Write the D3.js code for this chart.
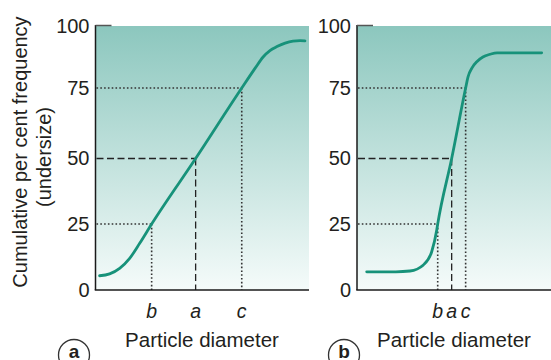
<!DOCTYPE html>
<html>
<head>
<meta charset="utf-8">
<script src="https://cdn.jsdelivr.net/npm/d3@7"></script>
<style>
  html, body { margin: 0; padding: 0; background: #fff; }
  svg { display: block; font-family: "Liberation Sans", Arial, Helvetica, sans-serif; }
</style>
</head>
<body>
<svg id="chart" width="551" height="360"></svg>
<script>
// ---- data ----
const yTickValues = [0, 25, 50, 75, 100];
const yTickLabels = ["0", "25", "50", "75", "100"];
const markerLetters = ["b", "a", "c"];
const markerLevels = [25, 50, 75];
const markerStyles = ["dotted", "dashed", "dotted"];

// panel a: broad distribution
const sizeA = [1.9, 6.6, 11.3, 16.0, 20.7, 26.3, 46.9, 68.5, 74.7, 78.5, 81.7, 85.0, 88.8, 92.5, 95.8, 98.1];
const cumA  = [5.4, 6.1, 8.2, 12.0, 17.7, 25.0, 50.0, 75.0, 82.9, 87.5, 90.1, 91.7, 93.1, 93.9, 94.1, 94.0];
const markersA = [26.3, 46.9, 68.5];

// panel b: narrow distribution
const sizeB = [5.0, 20.0, 27.3, 34.2, 38.5, 41.1, 41.6, 48.8, 56.0, 57.2, 59.3, 61.9, 64.9, 68.6, 72.2, 95.2];
const cumB  = [6.9, 6.9, 7.2, 9.5, 14.5, 22.7, 25.0, 50.0, 75.0, 79.4, 83.1, 85.7, 87.5, 88.6, 89.2, 89.2];
const markersB = [41.6, 48.8, 56.0];

const panelLabels = ["a", "b"];
const xTitle = "Particle diameter";
const yTitle = ["Cumulative per cent frequency", "(undersize)"];

// ---- drawing ----
const svg = d3.select("#chart");
const plotTop = 26, plotBottom = 290;
// the printed axis is not perfectly even; piecewise linear scale matches it
const y = d3.scaleLinear().domain([0, 25, 50, 75, 100]).range([290, 224, 158.5, 88, 26]);

const defs = svg.append("defs");
const grad = defs.append("linearGradient").attr("id", "bg")
  .attr("x1", 0).attr("y1", 0).attr("x2", 0).attr("y2", 1);
grad.append("stop").attr("offset", "0%").attr("stop-color", "#8cc7be");
grad.append("stop").attr("offset", "100%").attr("stop-color", "#f5fbfa");

const textColor = "#231f20";
const curveColor = "#17927a";

function panel(cfg) {
  const x = d3.scaleLinear().domain([0, 100]).range([cfg.left, cfg.right]);
  const g = svg.append("g");

  g.append("rect").attr("x", cfg.left).attr("y", plotTop)
    .attr("width", cfg.right - cfg.left).attr("height", plotBottom - plotTop)
    .attr("fill", "url(#bg)");

  // guide lines
  cfg.markers.forEach((m, i) => {
    const dashed = markerStyles[i] === "dashed";
    const dash = dashed ? "7,3.5" : "1.6,2.2";
    const col = dashed ? "#222" : "#333";
    const w = dashed ? 1.3 : 1.6;
    g.append("line").attr("x1", cfg.left + 1).attr("x2", x(m))
      .attr("y1", y(markerLevels[i])).attr("y2", y(markerLevels[i]))
      .attr("stroke", col).attr("stroke-width", w).attr("stroke-dasharray", dash);
    g.append("line").attr("x1", x(m)).attr("x2", x(m))
      .attr("y1", y(markerLevels[i])).attr("y2", plotBottom)
      .attr("stroke", col).attr("stroke-width", w).attr("stroke-dasharray", dash);
    g.append("text").attr("x", x(m)).attr("y", 318)
      .attr("text-anchor", "middle").attr("font-style", "italic")
      .attr("font-size", 19.5).attr("fill", textColor).text(markerLetters[i]);
  });

  // curve
  const pts = cfg.sizes.map((s, i) => [s, cfg.cums[i]]);
  g.append("path").datum(pts)
    .attr("d", d3.line().x(d => x(d[0])).y(d => y(d[1])).curve(d3.curveMonotoneX))
    .attr("fill", "none").attr("stroke", curveColor).attr("stroke-width", 2.8)
    .attr("stroke-linecap", "round");

  // y axis
  const yAxis = d3.axisLeft(y).tickValues(yTickValues)
    .tickFormat((d, i) => yTickLabels[i]).tickSize(0).tickPadding(6);
  const ay = g.append("g").attr("transform", `translate(${cfg.left},0)`).call(yAxis);
  ay.select(".domain").remove();
  ay.selectAll("text").attr("font-size", 20).attr("font-family", null).attr("fill", textColor);

  // axis lines
  g.append("line").attr("x1", cfg.left).attr("x2", cfg.left).attr("y1", plotTop - 1).attr("y2", plotBottom)
    .attr("stroke", "#1a1a1a").attr("stroke-width", 1.5);
  g.append("line").attr("x1", cfg.left - 0.75).attr("x2", cfg.right).attr("y1", plotBottom).attr("y2", plotBottom)
    .attr("stroke", "#1a1a1a").attr("stroke-width", 1.5);
  // top tick at 100
  g.append("line").attr("x1", cfg.left).attr("x2", cfg.left + 16).attr("y1", y(100) - 0.5).attr("y2", y(100) - 0.5)
    .attr("stroke", "#555").attr("stroke-width", 1.5);

  // x title
  g.append("text").attr("x", cfg.titleX).attr("y", 347).attr("text-anchor", "middle")
    .attr("font-size", 20.5).attr("fill", textColor).text(xTitle);

  // panel label in circle
  g.append("circle").attr("cx", cfg.labelX).attr("cy", 355).attr("r", 15.5)
    .attr("fill", "#fff").attr("stroke", "#333").attr("stroke-width", 1.3);
  g.append("text").attr("x", cfg.labelX).attr("y", 357.5).attr("text-anchor", "middle")
    .attr("font-size", 19).attr("font-weight", "bold").attr("fill", textColor).text(cfg.label);
}

panel({ left: 95.5, right: 309, sizes: sizeA, cums: cumA, markers: markersA,
        titleX: 202, labelX: 74, label: panelLabels[0] });
panel({ left: 357, right: 551, sizes: sizeB, cums: cumB, markers: markersB,
        titleX: 454, labelX: 344, label: panelLabels[1] });

// y title
const yt = svg.append("g").attr("fill", textColor).attr("font-size", 20).attr("text-anchor", "middle");
yt.append("text").attr("transform", "translate(27,152) rotate(-90)").text(yTitle[0]);
yt.append("text").attr("transform", "translate(51,157) rotate(-90)").text(yTitle[1]);
</script>
</body>
</html>
